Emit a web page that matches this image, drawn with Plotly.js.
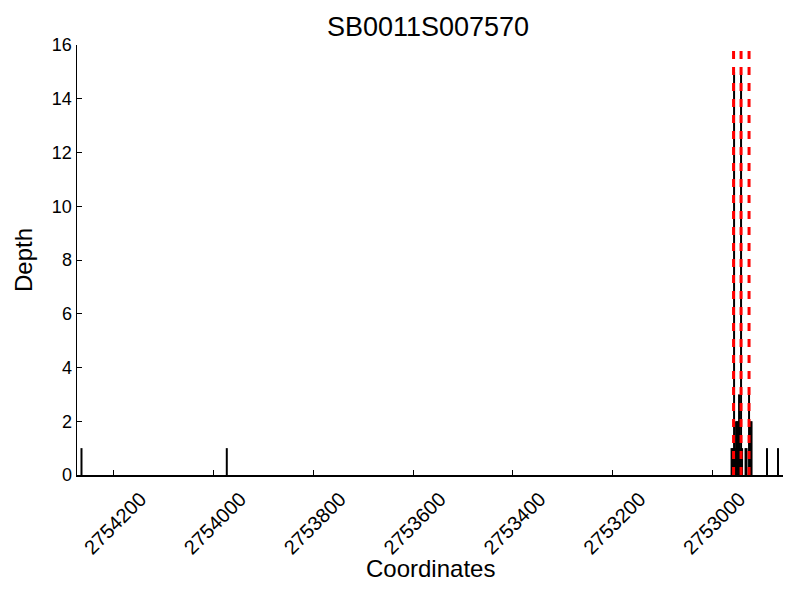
<!DOCTYPE html>
<html>
<head>
<meta charset="utf-8">
<script src="https://cdn.plot.ly/plotly-3.0.1.min.js"></script>
<style>html,body{margin:0;padding:0;background:#fff;}#chart{width:800px;height:600px;}</style>
</head>
<body>
<div id="chart"></div>
<script>
// Read-depth values by genomic coordinate
const positions = [2754264, 2753973,
  2752962, 2752960, 2752958, 2752957, 2752955, 2752953, 2752951, 2752949,
  2752947, 2752945, 2752943, 2752941, 2752934, 2752932, 2752927, 2752924,
  2752922, 2752891, 2752869];
const depths = [1, 1,
  1, 1, 1, 15, 1, 2, 2, 2,
  3, 1, 15, 1, 1, 1, 3, 2,
  2, 1, 1];
// Marked coordinates (red dashed lines)
const markers = [2752958, 2752943, 2752927];
const xTicks = [2754200, 2754000, 2753800, 2753600, 2753400, 2753200, 2753000];
const yTicks = [0, 2, 4, 6, 8, 10, 12, 14, 16];
const titleText = "SB0011S007570";
const xTitle = "Coordinates";
const yTitle = "Depth";

const xs = [], ys = [];
positions.forEach((p, i) => { xs.push(p, p, null); ys.push(0, depths[i], null); });

const trace = {
  x: xs, y: ys, type: 'scatter', mode: 'lines',
  line: {color: 'black', width: 2}, connectgaps: false,
  hoverinfo: 'skip', showlegend: false
};

const shapes = markers.map(m => ({
  type: 'line', xref: 'x', yref: 'paper', x0: m, x1: m, y0: 0, y1: 1,
  line: {color: 'red', width: 3, dash: '8px,8px'}, layer: 'above'
}));

const font = "Liberation Sans, Arial, sans-serif";
const layout = {
  width: 800, height: 600,
  margin: {l: 77, r: 17, t: 45, b: 125},
  paper_bgcolor: 'white', plot_bgcolor: 'white',
  font: {family: font, color: 'black', size: 18},
  title: {text: titleText, font: {size: 27, family: font}, x: 0.535, xanchor: 'center', y: 0.955, yanchor: 'middle'},
  xaxis: {
    range: [2754273, 2752859],
    tickvals: xTicks, ticktext: xTicks.map(String),
    tickangle: -45, ticks: 'inside', ticklen: 5, tickwidth: 1, tickcolor: 'black',
    ticklabelshift: -27, ticklabelstandoff: 3,
    showline: true, linecolor: 'black', linewidth: 1.5, mirror: false,
    showgrid: false, zeroline: false,
    tickfont: {size: 20, family: font},
    title: {text: ''}
  },
  yaxis: {
    range: [0, 16],
    tickvals: yTicks, ticktext: yTicks.map(String),
    ticks: 'inside', ticklen: 5, tickwidth: 1, tickcolor: 'black',
    showline: true, linecolor: 'black', linewidth: 1.5, mirror: false,
    showgrid: false, zeroline: false,
    tickfont: {size: 18, family: font},
    title: {text: yTitle, font: {size: 24, family: font}, standoff: 12}
  },
  annotations: [{
    text: xTitle, xref: 'paper', yref: 'paper', x: 0.5, y: 0,
    xanchor: 'center', yanchor: 'middle', yshift: -93, showarrow: false,
    font: {size: 24, family: font, color: 'black'}
  }],
  shapes: shapes
};

Plotly.newPlot('chart', [trace], layout, {displayModeBar: false, staticPlot: true});
</script>
</body>
</html>
